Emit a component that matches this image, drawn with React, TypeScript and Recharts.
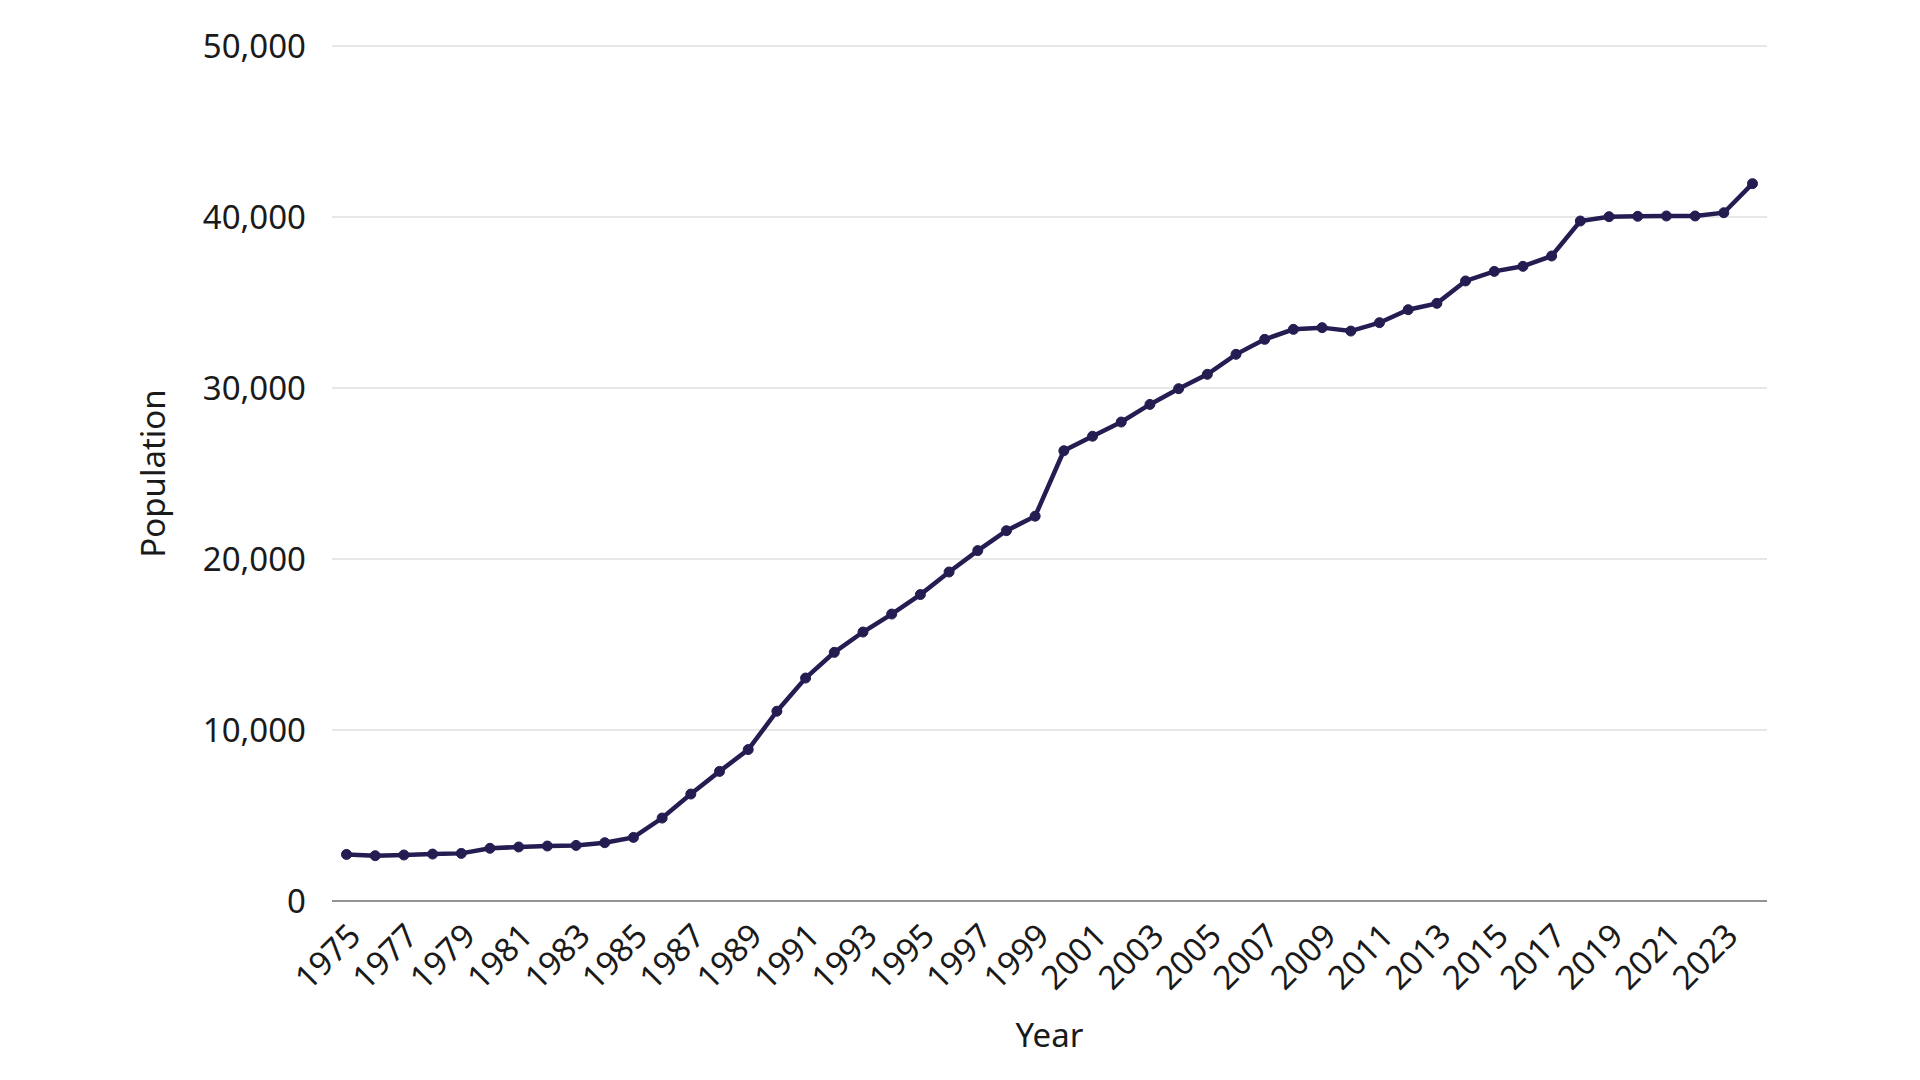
import React from 'react';
import { LineChart, Line, XAxis, YAxis, CartesianGrid, Label } from 'recharts';

const years = [
  '1975', '1976', '1977', '1978', '1979', '1980', '1981', '1982', '1983', '1984',
  '1985', '1986', '1987', '1988', '1989', '1990', '1991', '1992', '1993', '1994',
  '1995', '1996', '1997', '1998', '1999', '2000', '2001', '2002', '2003', '2004',
  '2005', '2006', '2007', '2008', '2009', '2010', '2011', '2012', '2013', '2014',
  '2015', '2016', '2017', '2018', '2019', '2020', '2021', '2022', '2023', '2024',
];

const population = [
  2725, 2650, 2690, 2745, 2785, 3080, 3160, 3215, 3250, 3410,
  3720, 4850, 6255, 7580, 8855, 11100, 13040, 14540, 15730, 16780,
  17920, 19240, 20490, 21655, 22505, 26330, 27180, 28010, 29040, 29960,
  30800, 31970, 32845, 33430, 33530, 33330, 33820, 34580, 34950, 36260,
  36820, 37115, 37720, 39765, 40020, 40040, 40060, 40060, 40250, 41950,
];

const yTicks = [0, 10000, 20000, 30000, 40000, 50000];

const FONT = "'Noto Sans', sans-serif";
const FONT_SIZE = 33;
const INK = '#1a1a1a';
const LINE_COLOR = '#231d52';

const data = years.map((year, i) => ({ year, population: population[i] }));

const YearTick = ({ x, y, payload }: any) => (
  <g transform={`translate(${x + 16},${y + 37})`}>
    <text
      x={0}
      y={0}
      textAnchor="end"
      transform="rotate(-45)"
      fontFamily={FONT}
      fontSize={FONT_SIZE}
      fill={INK}
    >
      {payload.value}
    </text>
  </g>
);

export default function App() {
  return (
    <div style={{ position: 'absolute', left: 0, top: 0, width: 1920, height: 1080, background: '#fff' }}>
      <LineChart
        width={1920}
        height={1080}
        data={data}
        margin={{ top: 46, right: 153, bottom: 0, left: 0 }}
      >
        <CartesianGrid vertical={false} stroke="#d0d0d0" strokeWidth={1} />
        <XAxis
          dataKey="year"
          interval={1}
          height={179}
          padding={{ left: 14.5, right: 14.5 }}
          tickLine={false}
          tickSize={0}
          tickMargin={0}
          axisLine={{ stroke: '#777777', strokeWidth: 1.5 }}
          tick={<YearTick />}
        >
          <Label
            value="Year"
            position="center"
            dy={45}
            style={{ fontFamily: FONT, fontSize: FONT_SIZE, fill: INK }}
          />
        </XAxis>
        <YAxis
          width={332}
          domain={[0, 50000]}
          ticks={yTicks}
          tickFormatter={(v: number) => v.toLocaleString('en-US')}
          axisLine={false}
          tickLine={false}
          tickSize={0}
          tickMargin={26}
          tick={{ fontFamily: FONT, fontSize: FONT_SIZE, fill: INK }}
        >
          <Label
            value="Population"
            angle={-90}
            position="center"
            dx={-13}
            style={{ fontFamily: FONT, fontSize: FONT_SIZE, fill: INK, textAnchor: 'middle' }}
          />
        </YAxis>
        <Line
          type="linear"
          dataKey="population"
          stroke={LINE_COLOR}
          strokeWidth={4.5}
          dot={{ r: 5, fill: LINE_COLOR, stroke: LINE_COLOR, strokeWidth: 1 }}
          activeDot={false}
          isAnimationActive={false}
        />
      </LineChart>
    </div>
  );
}
